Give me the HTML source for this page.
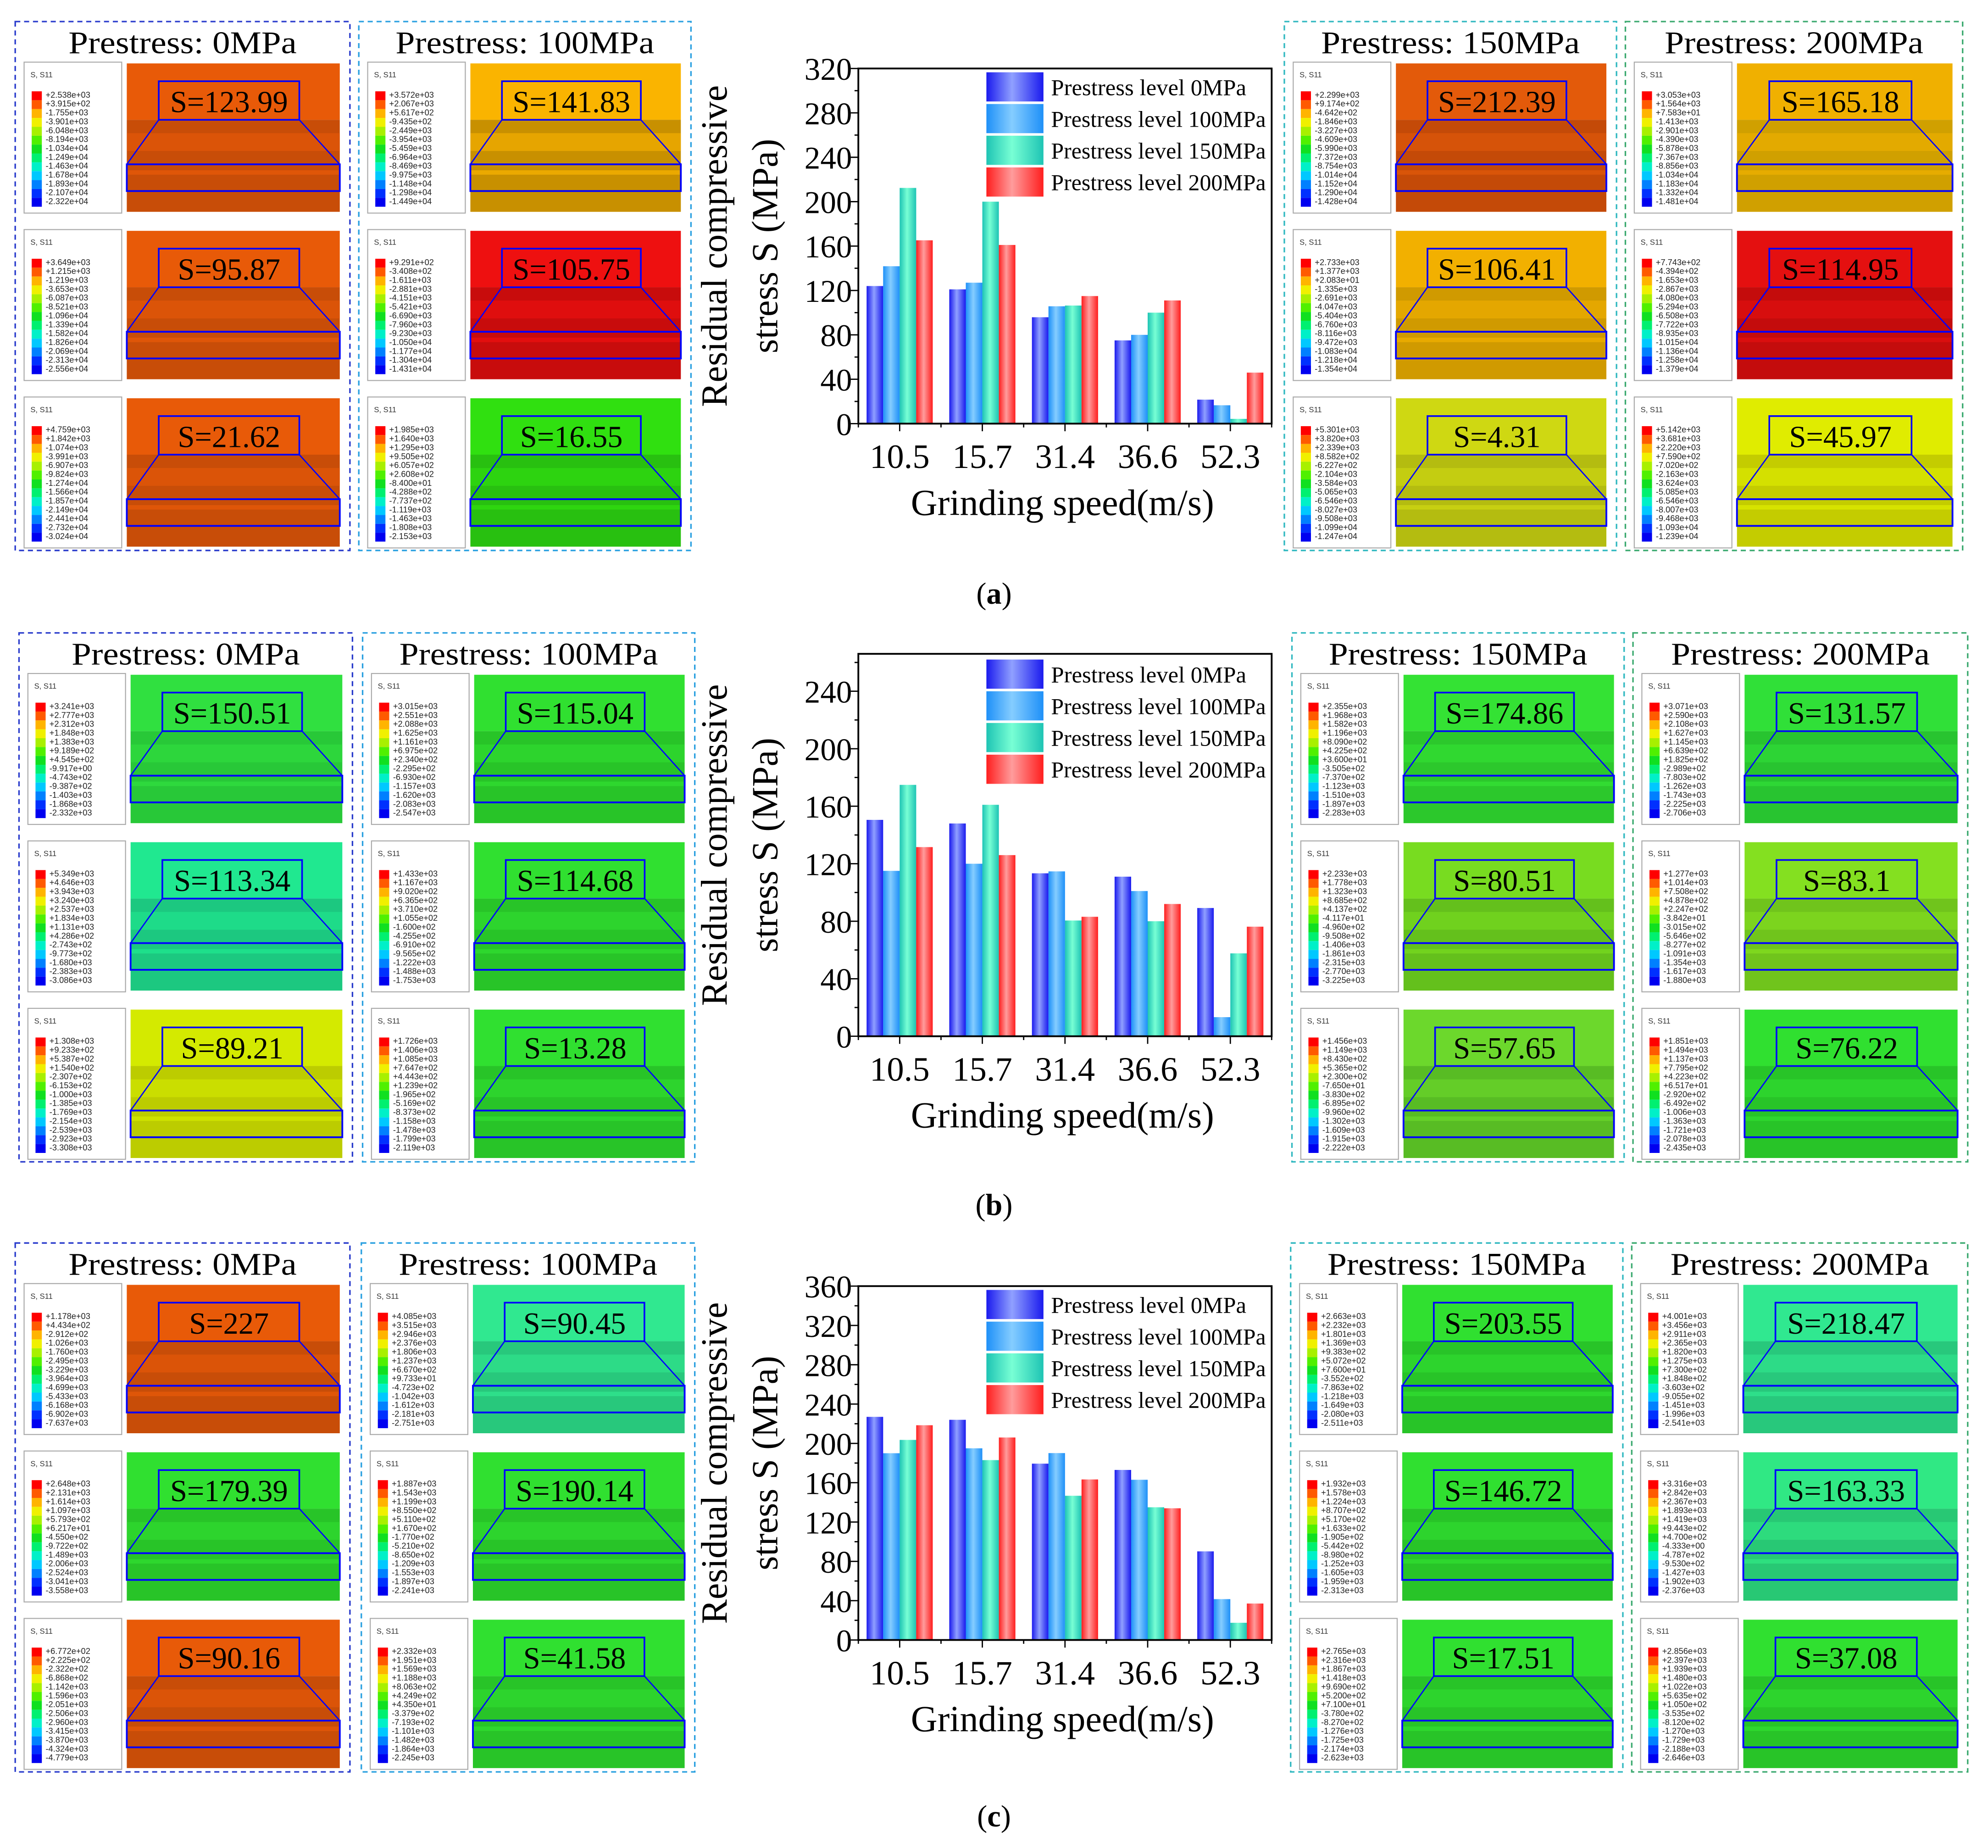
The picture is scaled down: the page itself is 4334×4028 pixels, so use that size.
<!DOCTYPE html>
<html><head><meta charset="utf-8">
<style>
html,body{margin:0;padding:0;background:#fff;}
svg{display:block;}
</style></head>
<body>
<svg id="fig" xmlns="http://www.w3.org/2000/svg" width="4334" height="4028" viewBox="0 0 1568 1457" preserveAspectRatio="none">
<defs>
<linearGradient id="g0" x1="0" x2="1" y1="0" y2="0"><stop offset="0" stop-color="#1a1aee"/><stop offset="0.45" stop-color="#90a0ff"/><stop offset="1" stop-color="#1a1aee"/></linearGradient>
<linearGradient id="g1" x1="0" x2="1" y1="0" y2="0"><stop offset="0" stop-color="#1e90f8"/><stop offset="0.45" stop-color="#85cdff"/><stop offset="1" stop-color="#1e90f8"/></linearGradient>
<linearGradient id="g2" x1="0" x2="1" y1="0" y2="0"><stop offset="0" stop-color="#1ec4b4"/><stop offset="0.45" stop-color="#78ffd4"/><stop offset="1" stop-color="#1ec4b4"/></linearGradient>
<linearGradient id="g3" x1="0" x2="1" y1="0" y2="0"><stop offset="0" stop-color="#ff1e1e"/><stop offset="0.45" stop-color="#ff9c9c"/><stop offset="1" stop-color="#ff1e1e"/></linearGradient>
</defs>
<text x="784" y="476" text-anchor="middle" font-family="Liberation Serif, serif" font-size="24">(<tspan font-weight="bold">a</tspan>)</text>
<text x="784" y="958" text-anchor="middle" font-family="Liberation Serif, serif" font-size="24">(<tspan font-weight="bold">b</tspan>)</text>
<text x="784" y="1440" text-anchor="middle" font-family="Liberation Serif, serif" font-size="24">(<tspan font-weight="bold">c</tspan>)</text>
</svg>
<script>
// ---------- chart data ----------
const categories = ["10.5","15.7","31.4","36.6","52.3"];
const seriesNames = ["Prestress level 0MPa","Prestress level 100MPa","Prestress level 150MPa","Prestress level 200MPa"];
const a0 = [123.99,121,95.87,75,21.62];
const a100 = [141.83,127,105.75,80,16.55];
const a150 = [212.39,200,106.41,100,4.31];
const a200 = [165.18,161,114.95,111,45.97];
const b0 = [150.51,148,113.34,111,89.21];
const b100 = [115.04,120,114.68,101,13.28];
const b150 = [174.86,161,80.51,80,57.65];
const b200 = [131.57,126,83.1,92,76.22];
const c0 = [227,224,179.39,173,90.16];
const c100 = [190,195,190.14,163,41.58];
const c150 = [203.55,183,146.72,135,17.51];
const c200 = [218.47,206,163.33,134,37.08];
const ticksA = [0,40,80,120,160,200,240,280,320];
const ticksB = [0,40,80,120,160,200,240];
const ticksC = [0,40,80,120,160,200,240,280,320,360];

// ---------- FE panel data ----------
const panelTitles = ["Prestress: 0MPa","Prestress: 100MPa","Prestress: 150MPa","Prestress: 200MPa"];
const sValsA = [["123.99","95.87","21.62"],["141.83","105.75","16.55"],["212.39","106.41","4.31"],["165.18","114.95","45.97"]];
const sValsB = [["150.51","113.34","89.21"],["115.04","114.68","13.28"],["174.86","80.51","57.65"],["131.57","83.1","76.22"]];
const sValsC = [["227","179.39","90.16"],["90.45","190.14","41.58"],["203.55","146.72","17.51"],["218.47","163.33","37.08"]];
const legMaxA=[[2538,3649,4759],[3572,929.1,1985],[2299,2733,5301],[3053,774.3,5142]];
const legMinA=[[-23220,-25560,-30240],[-14490,-14310,-2153],[-14280,-13540,-12470],[-14810,-13790,-12390]];
const legMaxB=[[3241,5349,1308],[3015,1433,1726],[2355,2233,1456],[3071,1277,1851]];
const legMinB=[[-2332,-3086,-3308],[-2547,-1753,-2119],[-2283,-3225,-2222],[-2706,-1880,-2435]];
const legMaxC=[[1178,2648,677.2],[4085,1887,2332],[2663,1932,2765],[4001,3316,2856]];
const legMinC=[[-7637,-3558,-4779],[-2751,-2241,-2245],[-2511,-2313,-2623],[-2541,-2376,-2646]];

const NS="http://www.w3.org/2000/svg";
const svg=document.getElementById('fig');
function el(tag,attrs,parent){const e=document.createElementNS(NS,tag);for(const k in attrs)e.setAttribute(k,attrs[k]);(parent||svg).appendChild(e);return e;}
function txt(x,y,s,size,attrs,parent){const t=el('text',Object.assign({x:x,y:y,'font-size':size,'font-family':'Liberation Serif, serif'},attrs||{}),parent);t.textContent=s;return t;}

const legColors=["#ff0000","#ff5a00","#ffb400","#f0f000","#a8f000","#50f000","#10e020","#00f070","#00f0c8","#00c8ff","#0080ff","#0030ff","#0000f0"];
function fmt(v){const s=v<0?'-':'+';let a=Math.abs(v);let e=Math.floor(Math.log10(a));let m=a/Math.pow(10,e);return s+m.toFixed(3)+'e'+(e<0?'-':'+')+String(Math.abs(e)).padStart(2,'0');}

const colA=[[["#e85a08","#c84d08"],["#e85a08","#c84d08"],["#e85a08","#c84d08"]],
 [["#fab400","#c89000"],["#ee1010","#c80c0c"],["#30e010","#28c010"]],
 [["#e35a0a","#c44a08"],["#f2b000","#d09a00"],["#cfd812","#b4bc10"]],
 [["#f0b000","#d0a000"],["#e41010","#c40c0c"],["#e0ec00","#c4cc00"]]];
const colB=[[["#30e040","#28c838"],["#20e890","#1cc880"],["#d4ea00","#bccc00"]],
 [["#30e030","#28c428"],["#30e030","#28c428"],["#30e030","#28c428"]],
 [["#34e234","#2cc82c"],["#78dc20","#64c01c"],["#6cd82c","#58bc24"]],
 [["#30e038","#28c430"],["#84e020","#70c41c"],["#30e030","#28c428"]]];
const colC=[[["#e85a08","#c84d08"],["#30e030","#28c428"],["#e85a08","#c84d08"]],
 [["#30e890","#28c87c"],["#30e030","#28c428"],["#30e030","#28c428"]],
 [["#30e030","#28c428"],["#30e030","#28c428"],["#30e030","#28c428"]],
 [["#30e890","#28c87c"],["#30e884","#28c874"],["#30e030","#28c428"]]];
const borderCols=["#2a3ccc","#2aa0e0","#30b8c0","#3caa70"];

function panel(x0,y0,w,h,pi,sv,cols,lmax,lmin,tag){
  const g=el('g',{});
  
  
  const b=el('rect',{x:x0,y:y0,width:w,height:h,fill:'none',stroke:borderCols[pi],'stroke-width':1.2,'stroke-dasharray':'4,3'},g);
  
  
  const tt=panelTitles[pi];
  const t=txt(x0+w/2,y0+25,tt,25,{'text-anchor':'middle',textLength:tt.length*12,lengthAdjust:'spacingAndGlyphs'},g);
  
  
  for(let r=0;r<3;r++){
    const ry=y0+30+r*132;
    const lg=el('g',{},g);
    
    
    el('rect',{x:x0+7,y:ry+2,width:77,height:119,fill:'#fff',stroke:'#aaa','stroke-width':0.8},lg);
    txt(x0+12,ry+14,'S, S11',6,{'font-family':'Liberation Sans, sans-serif',fill:'#333'},lg);
    for(let i=0;i<13;i++){
      el('rect',{x:x0+13,y:ry+25+i*7,width:8,height:7,fill:legColors[i]},lg);
      const v=lmax[r]+(lmin[r]-lmax[r])*i/12;
      txt(x0+24,ry+30+i*7,fmt(v),6.6,{'font-family':'Liberation Sans, sans-serif',fill:'#222'},lg);
    }
    const bx=x0+88,bw=w-96,by=ry+3,bh=117;
    const bg=el('g',{},g);
    
    
    const c=cols[r];
    el('rect',{x:bx,y:by,width:bw,height:bh*0.38,fill:c[0]},bg);
    el('rect',{x:bx,y:by+bh*0.38,width:bw,height:bh*0.62,fill:c[1]},bg);
    el('rect',{x:bx,y:by+bh*0.47,width:bw,height:bh*0.12,fill:c[0],opacity:0.6},bg);
    el('rect',{x:bx,y:by+bh*0.72,width:bw,height:bh*0.03,fill:c[0],opacity:0.7},bg);
    const lx=bx+bw*0.15,lw=bw*0.66,ly=by+bh*0.12,lh=bh*0.26;
    const iy=by+bh*0.68,ih=bh*0.18;
    el('rect',{x:bx,y:iy,width:bw,height:ih,fill:'none',stroke:'#0000ff','stroke-width':1.4},bg);
    el('line',{x1:lx,y1:ly+lh,x2:bx,y2:iy,stroke:'#0000ff','stroke-width':1},bg);
    el('line',{x1:lx+lw,y1:ly+lh,x2:bx+bw,y2:iy,stroke:'#0000ff','stroke-width':1},bg);
    el('rect',{x:lx,y:ly,width:lw,height:lh,fill:'none',stroke:'#0000ff','stroke-width':1.3},bg);
    const s=txt(lx+lw/2,ly+lh-6,'S='+sv[r],24,{'text-anchor':'middle'},bg);
    
    
  }
}
const pxA=[12,283,1013,1282],pwA=[264,262,262,266];
const pxB=[15,286,1019,1288],pwB=[263,262,262,264];
const pxC=[12,285,1018,1287],pwC=[264,263,262,265];
for(let i=0;i<4;i++){
  panel(pxA[i],17,pwA[i],417,i,sValsA[i],colA[i],legMaxA[i],legMinA[i],'a');
  panel(pxB[i],499,pwB[i],417,i,sValsB[i],colB[i],legMaxB[i],legMinB[i],'b');
  panel(pxC[i],980,pwC[i],417,i,sValsC[i],colC[i],legMaxC[i],legMinC[i],'c');
}

function chart(tag,top,bottom,ymax,ticks,series,legY){
  const L=677,R=1003;
  const g=el('g',{});
  
  
  const yS=v=>bottom-(v/ymax)*(bottom-top);
  const slot=(R-L)/categories.length;
  const xC=i=>L+(i+0.5)*slot;
  const bw=slot*0.2;
  series.forEach((vals,s)=>{
    vals.forEach((v,i)=>{
      const b=el('rect',{x:xC(i)-2*bw+s*bw,y:yS(v),width:bw,height:bottom-yS(v),fill:'url(#g'+s+')'},g);
      
      
    });
  });
  el('rect',{x:L,y:top,width:R-L,height:bottom-top,fill:'none',stroke:'#000','stroke-width':1.4},g);
  const step=ticks[1]-ticks[0];
  for(let v=0;v<=ymax+0.01;v+=step/2){
    const major=ticks.indexOf(Math.round(v))>=0 && Math.abs(v-Math.round(v))<1e-6;
    el('line',{x1:L,y1:yS(v),x2:L-(major?6:3),y2:yS(v),stroke:'#000','stroke-width':1},g);
  }
  ticks.forEach(t=>{
    const tl=txt(L-5,yS(t)+9,String(t),25,{'text-anchor':'end'},g);
    
    
  });
  categories.forEach((c,i)=>{
    el('line',{x1:xC(i),y1:bottom,x2:xC(i),y2:bottom+6,stroke:'#000','stroke-width':1},g);
    el('line',{x1:L+i*slot,y1:bottom,x2:L+i*slot,y2:bottom+3,stroke:'#000','stroke-width':1},g);
    const tl=txt(xC(i),bottom+35,c,27,{'text-anchor':'middle'},g);
    
    
  });
  el('line',{x1:R,y1:bottom,x2:R,y2:bottom+3,stroke:'#000','stroke-width':1},g);
  const mid=(top+bottom)/2;
  const t1=txt(573,mid,'Residual compressive',29,{'text-anchor':'middle',transform:'rotate(-90 573 '+mid+')'},g);
  
  
  const t2=txt(613,mid,'stress S (MPa)',29,{'text-anchor':'middle',transform:'rotate(-90 613 '+mid+')'},g);
  
  
  const xt=txt(838,bottom+72,'Grinding speed(m/s)',29,{'text-anchor':'middle'},g);
  
  
  seriesNames.forEach((n,s)=>{
    const sw=el('rect',{x:L+101,y:legY+s*25,width:45,height:23,fill:'url(#g'+s+')'},g);
    
    
    const lt=txt(L+152,legY+s*25+18,n,18,{textLength:n.length*7.7,lengthAdjust:'spacingAndGlyphs'},g);
    
    
  });
}
chart('a',54,334,320,ticksA,[a0,a100,a150,a200],57);
chart('b',515.5,817,266,ticksB,[b0,b100,b150,b200],520);
chart('c',1014,1293,360,ticksC,[c0,c100,c150,c200],1017);
</script>
</body></html>
